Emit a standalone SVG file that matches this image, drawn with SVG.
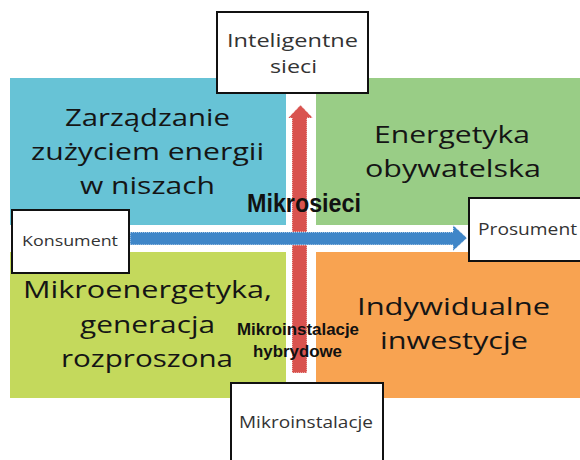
<svg xmlns="http://www.w3.org/2000/svg" width="580" height="460" viewBox="0 0 580 460">
<style>
.q{font-family:"Open Sans","Noto Sans",sans-serif;font-size:24px;fill:#151515}
.b{fill:#fff;stroke:#111;stroke-width:2}
.bt{font-family:"Open Sans","Noto Sans",sans-serif;fill:#333}
.lbl{font-family:"Liberation Sans",Arial,sans-serif;font-weight:bold;fill:#111}
</style>
<rect width="580" height="460" fill="#fff"/>
<g id="q-zarzadzanie">
<rect x="10" y="78" width="276" height="147" fill="#67c3d6"/>
<text class="q" x="65" y="126" textLength="165" lengthAdjust="spacingAndGlyphs">Zarządzanie</text>
<text class="q" x="31" y="160" textLength="233" lengthAdjust="spacingAndGlyphs">zużyciem energii</text>
<text class="q" x="80" y="194" textLength="135" lengthAdjust="spacingAndGlyphs">w niszach</text>
</g>
<g id="q-energetyka">
<rect x="316" y="78" width="264" height="147" fill="#99cd86"/>
<text class="q" x="374" y="143" textLength="156" lengthAdjust="spacingAndGlyphs">Energetyka</text>
<text class="q" x="365" y="177" textLength="176" lengthAdjust="spacingAndGlyphs">obywatelska</text>
</g>
<g id="q-mikroenergetyka">
<rect x="10" y="252" width="276" height="146" fill="#c4d95c"/>
<text class="q" x="23" y="298" textLength="249" lengthAdjust="spacingAndGlyphs">Mikroenergetyka,</text>
<text class="q" x="80" y="333" textLength="135" lengthAdjust="spacingAndGlyphs">generacja</text>
<text class="q" x="61" y="367" textLength="172" lengthAdjust="spacingAndGlyphs">rozproszona</text>
</g>
<g id="q-indywidualne">
<rect x="316" y="252" width="264" height="146" fill="#f8a351"/>
<text class="q" x="357" y="315" textLength="193" lengthAdjust="spacingAndGlyphs">Indywidualne</text>
<text class="q" x="380" y="349" textLength="148" lengthAdjust="spacingAndGlyphs">inwestycje</text>
</g>
<g id="connectors">
<path d="M292,373 V118 H288 L300.5,105 L313,118 H307 V373 Z" fill="#d9534f" stroke="#fff" stroke-width="1" stroke-dasharray="1 1"/>
<path d="M130,232 H453 V225 L467,238 L453,251 V245 H130 Z" fill="#3f86c8" stroke="#fff" stroke-width="1" stroke-dasharray="1 1"/>
<text class="lbl" x="247" y="212" font-size="26" textLength="114" lengthAdjust="spacingAndGlyphs">Mikrosieci</text>
<text class="lbl" x="237" y="335" font-size="16" textLength="122" lengthAdjust="spacingAndGlyphs">Mikroinstalacje</text>
<text class="lbl" x="253" y="357" font-size="16" textLength="89" lengthAdjust="spacingAndGlyphs">hybrydowe</text>
</g>
<g id="n-inteligentne">
<rect class="b" x="217" y="12" width="151" height="81"/>
<text class="bt" x="227" y="47" font-size="19" textLength="131" lengthAdjust="spacingAndGlyphs">Inteligentne</text>
<text class="bt" x="270" y="73" font-size="19" textLength="47" lengthAdjust="spacingAndGlyphs">sieci</text>
</g>
<g id="n-konsument">
<rect class="b" x="12" y="210" width="117" height="63"/>
<text class="bt" x="22" y="246" font-size="14" textLength="96" lengthAdjust="spacingAndGlyphs">Konsument</text>
</g>
<g id="n-prosument">
<rect class="b" x="469" y="198" width="120" height="63"/>
<text class="bt" x="478" y="235" font-size="16" textLength="99" lengthAdjust="spacingAndGlyphs">Prosument</text>
</g>
<g id="n-mikroinstalacje">
<rect class="b" x="231" y="383" width="152" height="84"/>
<text class="bt" x="239" y="428" font-size="15.5" textLength="134" lengthAdjust="spacingAndGlyphs">Mikroinstalacje</text>
</g>
</svg>
